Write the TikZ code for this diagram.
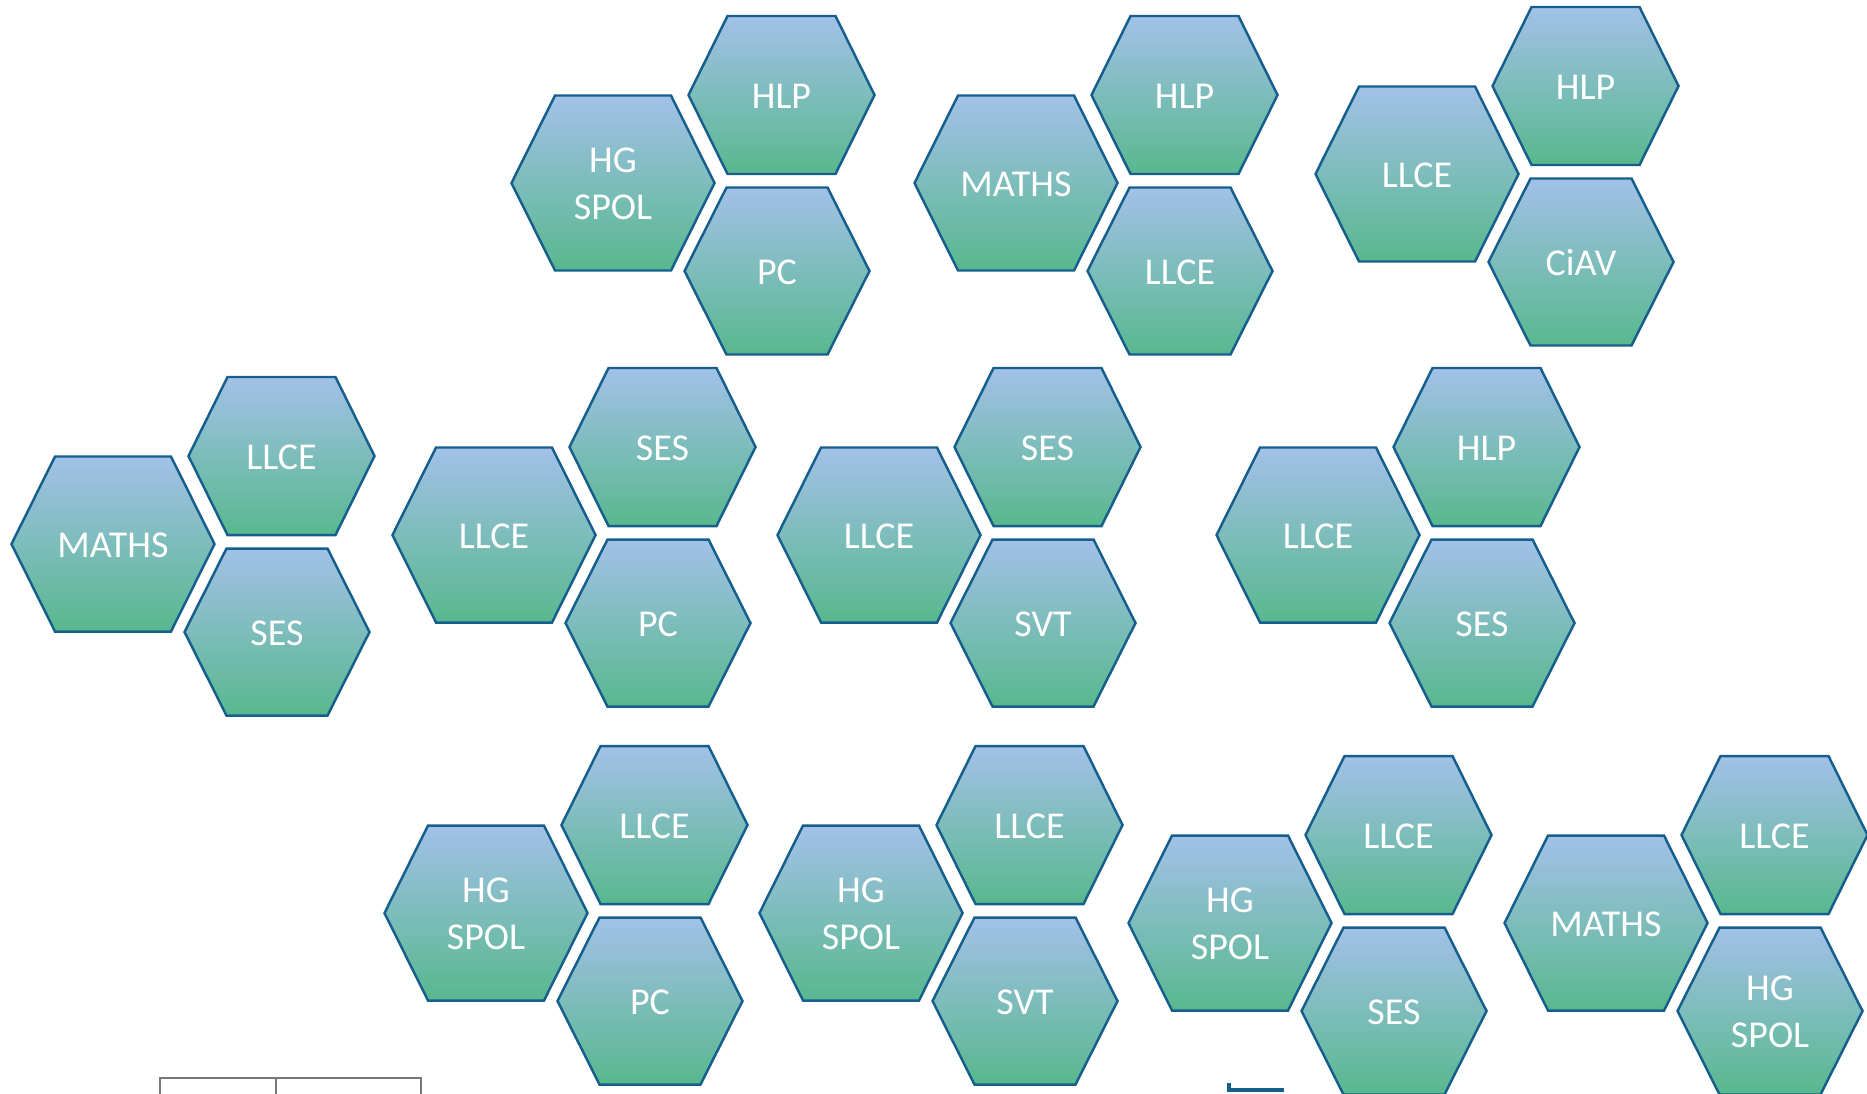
\documentclass[tikz,border=0pt]{standalone}
\usepackage{fontspec}
\setmainfont{Carlito}
\usepackage{xcolor}

\definecolor{hexline}{RGB}{22,94,140}
\definecolor{hextop}{RGB}{162,193,232}
\definecolor{hexbot}{RGB}{88,184,142}
\definecolor{tabgray}{RGB}{120,120,120}

\tikzset{
  hexcell/.style={draw=hexline, line width=0.7pt, line join=miter, top color=hextop, bottom color=hexbot},
  hexlabel/.style={text=white, align=center, inner sep=0pt, font=\fontsize{10.8}{13.4}\selectfont}
}

\begin{document}
\begin{tikzpicture}[x=0.01cm, y=-0.01cm]
\useasboundingbox (0,0) rectangle (1867,1093);
% clusters: centre of the big cell, then its three subjects
\foreach \g/\cx/\cy/\subA/\subB/\subC in {
  1/613/183/{HG\\SPOL}/HLP/PC,
  2/1016/183/MATHS/HLP/LLCE,
  3/1417/174/LLCE/HLP/CiAV,
  4/113/544/MATHS/LLCE/SES,
  5/494/535/LLCE/SES/PC,
  6/879/535/LLCE/SES/SVT,
  7/1318/535/LLCE/HLP/SES,
  8/486/913/{HG\\SPOL}/LLCE/PC,
  9/861/913/{HG\\SPOL}/LLCE/SVT,
  10/1230/923/{HG\\SPOL}/LLCE/SES,
  11/1606/923/MATHS/LLCE/{HG\\SPOL}}
{
  \begin{scope}[shift={(\cx,\cy)}]
    % big cell
    \path[hexcell] (-101.5,0) -- (-58,-87.5) -- (58,-87.5) -- (101.5,0) -- (58,87.5) -- (-58,87.5) -- cycle;
    \node[hexlabel] (big\g) at (0,1) {\subA};
    % upper cell
    \path[hexcell] (75.5,-88) -- (114.5,-167) -- (222.5,-167) -- (261.5,-88) -- (222.5,-9) -- (114.5,-9) -- cycle;
    \node[hexlabel] (up\g) at (168.5,-87) {\subB};
    % lower cell
    \path[hexcell] (71.5,88) -- (113.5,4.5) -- (214.5,4.5) -- (256.5,88) -- (214.5,171.5) -- (113.5,171.5) -- cycle;
    \node[hexlabel] (dn\g) at (164,89) {\subC};
  \end{scope}
}
% bits cut off at the bottom edge
\draw[tabgray, line width=0.6pt] (160,1110) -- (160,1078) -- (421,1078) -- (421,1110);
\draw[tabgray, line width=0.6pt] (276,1078) -- (276,1110);
\draw[hexline, line width=1pt] (1229,1083) -- (1229,1090) -- (1284,1090);
\end{tikzpicture}
\end{document}
